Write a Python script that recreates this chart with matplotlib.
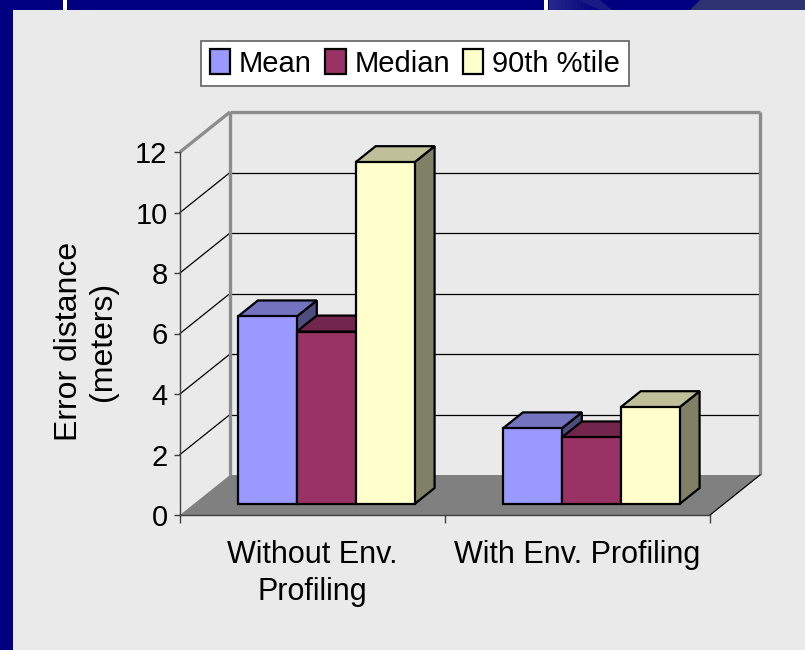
import matplotlib.pyplot as plt
from matplotlib.patches import Polygon, Rectangle, Patch
import numpy as np

plt.rcParams['font.family'] = ['Liberation Sans', 'DejaVu Sans']

# data
categories = ["Without Env.\nProfiling", "With Env. Profiling"]
series = ["Mean", "Median", "90th %tile"]
mean = [6.2, 2.5]
median = [5.7, 2.2]
pct90 = [11.3, 3.2]
values = [mean, median, pct90]
yticks = [0, 2, 4, 6, 8, 10, 12]

# face colours: front, top, side
front_cols = ["#9999FF", "#993366", "#FFFFCC"]
top_cols = ["#7373BF", "#73264D", "#BFBF99"]
side_cols = ["#4D4D80", "#4D1A33", "#808066"]

navy = "#000080"
panel = "#EAEAEA"

W, H = 805, 650
fig = plt.figure(figsize=(W / 100, H / 100), dpi=100)
fig.patch.set_facecolor(navy)

# slide background decorations
bg = fig.add_axes([0, 0, 1, 1])
bg.set_xlim(0, W)
bg.set_ylim(H, 0)
bg.axis("off")
bg.add_patch(Rectangle((13, 10), W - 13, H - 10, color=panel, lw=0))
bg.add_patch(Rectangle((63, 0), 4, 10, color="white", lw=0))
bg.add_patch(Rectangle((544, 0), 4, 10, color="white", lw=0))
for i in range(12):
    bg.add_patch(Rectangle((549 + i * 4, 0), 4, 10, lw=0,
                           color=(0.15 - i * 0.012, 0.15 - i * 0.012, 0.55 - i * 0.005)))
bg.add_patch(Polygon([(578, 0), (600, 0), (612, 10), (600, 10)], closed=True,
                     color="#1A1A85", lw=0))
bg.add_patch(Polygon([(700, 0), (W, 0), (W, 10), (690, 10)], closed=True,
                     color="#2E3270", lw=0))

# oblique 3D frame: depth offsets in data units
n_cat = len(categories)
ddx = 50 / 265
ddy = 40 / 30.25
x_left, x_right = 180, 760
y_bot, y_top = 515, 112
ax = fig.add_axes([x_left / W, (H - y_bot) / H,
                   (x_right - x_left) / W, (y_bot - y_top) / H])
ax.set_xlim(0, n_cat + ddx)
ax.set_ylim(0, yticks[-1] + ddy)
ax.set_facecolor("none")

# floor
ax.add_patch(Polygon([(0, 0), (n_cat, 0), (n_cat + ddx, ddy), (ddx, ddy)],
                     closed=True, facecolor="#808080", edgecolor="none",
                     zorder=1, clip_on=False))
ax.plot([n_cat, n_cat + ddx], [0, ddy], color="black", lw=0.9, zorder=2,
        clip_on=False)

# back wall gridlines and left-wall diagonals
for v in yticks[1:-1]:
    ax.plot([ddx, n_cat + ddx], [v + ddy, v + ddy], color="black", lw=0.9,
            zorder=1, clip_on=False)
    ax.plot([0, ddx], [v, v + ddy], color="black", lw=0.9, zorder=1,
            clip_on=False)
top = yticks[-1]
wall_kw = dict(color="#8C8C8C", lw=2.4, zorder=1.5, clip_on=False,
               solid_capstyle="butt")
ax.plot([0, ddx], [top, top + ddy], **wall_kw)
ax.plot([ddx, n_cat + ddx], [top + ddy, top + ddy], **wall_kw)
ax.plot([ddx, ddx], [ddy, top + ddy], **wall_kw)
ax.plot([n_cat + ddx, n_cat + ddx], [ddy, top + ddy], **wall_kw)

# bars
bar_w = (1 / 1.5) / len(series)
d0, d1 = 0.275, 0.675


def proj(x, y, d):
    return (x + d * ddx, y + d * ddy)


edge_kw = dict(edgecolor="black", lw=1.6, joinstyle="miter", clip_on=False,
               zorder=3)
for c in range(n_cat):
    start = c + 0.5 - bar_w * len(series) / 2
    for s in range(len(series)):
        v = values[s][c]
        x0 = start + s * bar_w
        x1 = x0 + bar_w
        side = [proj(x1, 0, d0), proj(x1, v, d0), proj(x1, v, d1), proj(x1, 0, d1)]
        topf = [proj(x0, v, d0), proj(x1, v, d0), proj(x1, v, d1), proj(x0, v, d1)]
        front = [proj(x0, 0, d0), proj(x1, 0, d0), proj(x1, v, d0), proj(x0, v, d0)]
        ax.add_patch(Polygon(side, closed=True, facecolor=side_cols[s], **edge_kw))
        ax.add_patch(Polygon(topf, closed=True, facecolor=top_cols[s], **edge_kw))
        ax.add_patch(Polygon(front, closed=True, facecolor=front_cols[s], **edge_kw))

# axes
for sp in ["top", "right"]:
    ax.spines[sp].set_visible(False)
ax.spines["left"].set_bounds(0, top)
ax.spines["bottom"].set_bounds(0, n_cat)
for sp in ["left", "bottom"]:
    ax.spines[sp].set_color("#404040")
    ax.spines[sp].set_linewidth(1.0)
    ax.spines[sp].set_zorder(4)

ax.set_yticks(yticks)
ax.set_yticklabels([str(t) for t in yticks])
ax.tick_params(axis="y", direction="out", length=4, width=1.0, color="#404040",
               pad=5, labelsize=21)
ax.set_xticks(np.arange(n_cat + 1))
ax.set_xticklabels([])
ax.tick_params(axis="x", which="major", direction="out", length=6, width=1.0,
               color="#404040")
ax.set_xticks(np.arange(n_cat) + 0.5, minor=True)
ax.set_xticklabels(categories, minor=True, linespacing=1.3)
ax.tick_params(axis="x", which="minor", length=0, pad=18, labelsize=22)

fig.text(86 / W, 1 - 341 / H, "Error distance\n(meters)", rotation=90,
         ha="center", va="center", multialignment="center", fontsize=23,
         linespacing=1.2)

handles = [Patch(facecolor=front_cols[i], edgecolor="black", lw=1.6)
           for i in range(len(series))]
leg = fig.legend(handles, series, loc="center",
                 bbox_to_anchor=(415 / W, 1 - 63.5 / H), ncol=3, fontsize=21,
                 frameon=True, fancybox=False, framealpha=1,
                 edgecolor="#606060", handlelength=0.7, handleheight=0.9,
                 handletextpad=0.3, columnspacing=0.45, borderpad=0.3,
                 borderaxespad=0)
leg.get_frame().set_linewidth(1.2)

fig.savefig("out.png", dpi=100, facecolor=fig.get_facecolor())
